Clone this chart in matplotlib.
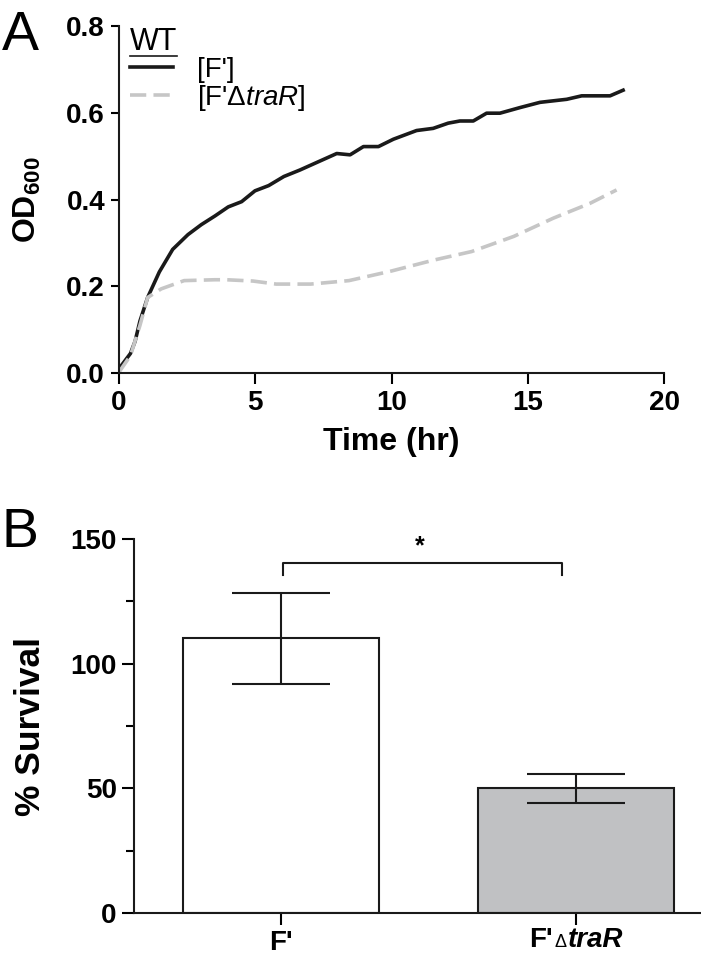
import matplotlib
matplotlib.use('Agg')
import matplotlib.pyplot as plt
from matplotlib.lines import Line2D
from matplotlib.offsetbox import TextArea, HPacker, AnnotationBbox

plt.rcParams['font.family'] = ['Liberation Sans', 'DejaVu Sans']
plt.rcParams['mathtext.fontset'] = 'custom'
plt.rcParams['mathtext.rm'] = 'Liberation Sans'
plt.rcParams['mathtext.it'] = 'Liberation Sans:italic'
plt.rcParams['mathtext.bf'] = 'Liberation Sans:bold'

# --- panel A: growth curves (OD600 vs time) ---
time_wt = [0, 0.42, 0.59, 0.77, 1.05, 1.48, 1.97, 2.53, 3.02, 3.52, 4.01, 4.5, 4.99,
           5.49, 6.05, 6.64, 7.03, 7.99, 8.48, 8.97, 9.52, 10.07, 10.92, 11.53, 12.08,
           12.51, 13.0, 13.49, 13.98, 14.72, 15.45, 16.43, 16.98, 18.02, 18.5]
od_wt = [0.01, 0.045, 0.073, 0.12, 0.174, 0.233, 0.285, 0.319, 0.342, 0.362, 0.383,
         0.395, 0.42, 0.432, 0.453, 0.468, 0.479, 0.506, 0.503, 0.522, 0.522, 0.539,
         0.559, 0.564, 0.576, 0.581, 0.581, 0.599, 0.599, 0.612, 0.624, 0.631, 0.639,
         0.639, 0.652]
time_tra = [0, 0.42, 0.77, 1.05, 1.55, 2.39, 3.52, 3.94, 4.92, 5.77, 7.03, 8.44, 9.99,
            11.53, 12.94, 14.49, 15.94, 17.28, 18.26]
od_tra = [0.002, 0.04, 0.11, 0.174, 0.194, 0.213, 0.215, 0.215, 0.212, 0.205, 0.205,
          0.213, 0.235, 0.26, 0.28, 0.315, 0.357, 0.391, 0.422]
legend_labels = ["[F']", "[F'Δ$\\it{traR}$]"]

# --- panel B: survival ---
strains = ["F'", "F'ΔtraR"]
survival = [110.2, 50.0]
survival_err = [18.2, 5.9]
bar_colors = ["white", "#c0c1c3"]

fig = plt.figure(figsize=(7.01, 9.67), dpi=100)
W, H = 701, 967

ax1 = fig.add_axes([119 / W, 1 - 373 / H, 545 / W, 347 / H])
ax1.plot(time_wt, od_wt, color="#1a1a1a", lw=2.6, label=legend_labels[0])
ax1.plot(time_tra, od_tra, color="#c6c6c6", lw=2.6, dashes=(4.5, 2),
         label=legend_labels[1])
ax1.set_xlim(0, 20)
ax1.set_ylim(0, 0.8)
ax1.set_xticks([0, 5, 10, 15, 20])
ax1.set_yticks([0, 0.2, 0.4, 0.6, 0.8])
ax1.set_yticklabels(["0.0", "0.2", "0.4", "0.6", "0.8"])
ax1.set_xlabel("Time (hr)", fontsize=23, fontweight="bold")
ax1.xaxis.set_label_coords(0.5, -0.155)
ax1.set_ylabel(r"$\mathbf{OD_{600}}$", fontsize=23)
ax1.yaxis.set_label_coords(-0.14, 0.5)
ax1.tick_params(axis="x", length=8, width=1.5, pad=4, labelsize=20)
ax1.tick_params(axis="y", length=6, width=1.5, pad=4, labelsize=20)

leg = ax1.legend(title="WT", loc="upper left", bbox_to_anchor=(0.015, 1.005),
                 frameon=False, fontsize=20, title_fontsize=22, alignment="left",
                 handlelength=1.55, handletextpad=0.85, labelspacing=0.0,
                 borderpad=0.1, borderaxespad=0.0)

ax2 = fig.add_axes([134 / W, 1 - 913 / H, 567 / W, 374 / H])
xpos = range(len(strains))
ax2.bar(xpos, survival, width=0.665, color=bar_colors, edgecolor="#1a1a1a", lw=1.5,
        zorder=2)
ax2.errorbar(xpos, survival, yerr=survival_err, fmt="none", ecolor="#1a1a1a",
             elinewidth=1.5, capsize=35.6, capthick=1.5, zorder=3)
ax2.set_xlim(-0.498, 1.424)
ax2.set_ylim(0, 150)
ax2.set_yticks([0, 50, 100, 150])
ax2.set_yticks([25, 75, 125], minor=True)
ax2.set_xticks(list(xpos))
ax2.set_xticklabels([strains[0], ""])
ax2.set_ylabel("% Survival", fontsize=25.5, fontweight="bold")
ax2.yaxis.set_label_coords(-0.153, 0.5)
ax2.tick_params(axis="both", which="major", length=8.5, width=1.5, pad=4, labelsize=20)
ax2.tick_params(axis="y", which="minor", length=6, width=1.5)

# significance bracket
ax2.plot([0.006, 0.006, 0.953, 0.953], [135.6, 140.2, 140.2, 135.6],
         color="#1a1a1a", lw=1.5, clip_on=False)
ax2.text(0.47, 147, "*", ha="center", va="center", fontsize=18, fontweight="bold")

for ax in (ax1, ax2):
    for s in ("top", "right"):
        ax.spines[s].set_visible(False)
    for s in ("left", "bottom"):
        ax.spines[s].set_linewidth(1.5)
        ax.spines[s].set_color("#1a1a1a")
    for lbl in ax.get_xticklabels() + ax.get_yticklabels():
        lbl.set_fontweight("bold")

# mixed-style tick label: F' (bold) + Δ + traR (bold italic)
parts = HPacker(children=[
    TextArea("F'", textprops=dict(fontsize=20, fontweight="bold")),
    TextArea("Δ", textprops=dict(fontsize=13)),
    TextArea("traR", textprops=dict(fontsize=20, fontweight="bold", style="italic")),
], align="baseline", pad=0, sep=1)
ab = AnnotationBbox(parts, (1, 0), xycoords=ax2.get_xaxis_transform(),
                    xybox=(0, -10), boxcoords="offset points",
                    box_alignment=(0.5, 1), frameon=False)
ax2.add_artist(ab)

fig.text(2 / W, 1 - 50 / H, "A", fontsize=40, va="baseline")
fig.text(2 / W, 1 - 547 / H, "B", fontsize=40, va="baseline")

# underline under the legend title
fig.canvas.draw()
tb = leg.get_title().get_window_extent()
fig.add_artist(Line2D([tb.x0 / W, tb.x1 / W], [(tb.y0 + 1) / H, (tb.y0 + 1) / H],
                      color="#1a1a1a", lw=1.2))

fig.savefig("out.png", dpi=100)
